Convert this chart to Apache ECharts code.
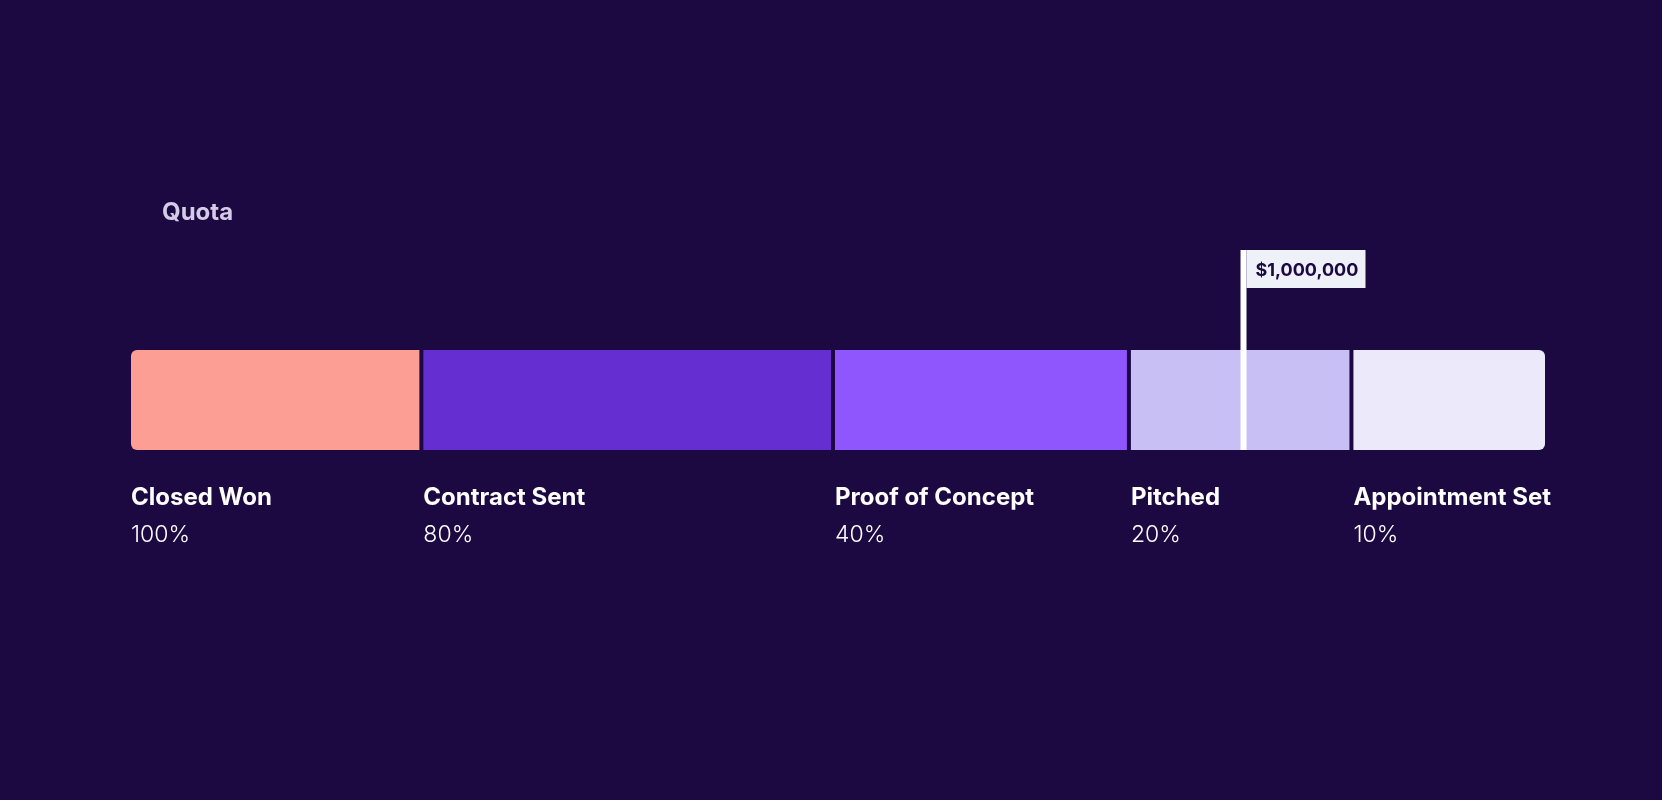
<!DOCTYPE html>
<html><head><meta charset="utf-8">
<script src="https://cdn.jsdelivr.net/npm/echarts@6/dist/echarts.min.js"></script>
<style>html,body{margin:0;padding:0;background:#1c0942;}#c{width:1662px;height:800px;}</style>
</head><body><div id="c"></div>
<script>
const stages = ['Closed Won', 'Contract Sent', 'Proof of Concept', 'Pitched', 'Appointment Set'];
const stageValues = [261000, 370000, 266000, 200000, 174000];
const winRates = ['100%', '80%', '40%', '20%', '10%'];
const stageColors = ['#fd9e95', '#652ed1', '#8f56fe', '#c8bff5', '#ece9fb'];
const quotaValue = 1000000;
const quotaText = '$1,000,000';
const titleText = 'Quota';

const BG = '#1c0942';
const FONT = 'Inter, "Noto Sans", sans-serif';

// cumulative ranges
const ranges = [];
let acc = 0;
stageValues.forEach((v, i) => { ranges.push([acc, acc + v, i]); acc += v; });
const total = acc;

const chart = echarts.init(document.getElementById('c'), null, { renderer: 'canvas' });
chart.setOption({
  backgroundColor: BG,
  animation: false,
  title: {
    text: titleText, left: 162, top: 201, padding: 0,
    textStyle: { color: '#d4cce6', fontSize: 24, fontWeight: 700, fontFamily: FONT }
  },
  grid: { left: 131, width: 1414, top: 350, height: 100 },
  xAxis: { type: 'value', min: 0, max: total, show: false },
  yAxis: { type: 'category', data: ['Pipeline'], show: false },
  series: [
    {
      type: 'custom',
      data: ranges,
      encode: { x: [0, 1] },
      z: 2,
      renderItem: function (params, api) {
        const i = params.dataIndex;
        const last = stages.length - 1;
        const s = api.coord([api.value(0), 0]);
        const e = api.coord([api.value(1), 0]);
        const h = api.size([0, 1])[1];
        const x0 = s[0] + (i > 0 ? 2 : 0);
        const x1 = e[0] - (i < last ? 2 : 0);
        const y0 = s[1] - h / 2;
        const r = i === 0 ? [6, 0, 0, 6] : (i === last ? [0, 6, 6, 0] : 0);
        return {
          type: 'group',
          children: [
            { type: 'rect', shape: { x: x0, y: y0, width: x1 - x0, height: h, r: r }, style: { fill: stageColors[i] } },
            { type: 'text', x: x0, y: y0 + h + 48, style: { text: stages[i], fontFamily: FONT, fontSize: 24, fontWeight: 700, fill: '#ffffff', verticalAlign: 'middle', align: 'left' } },
            { type: 'text', x: x0, y: y0 + h + 85, style: { text: winRates[i], fontFamily: FONT, fontSize: 23, fontWeight: 300, fill: '#ffffff', verticalAlign: 'middle', align: 'left' } }
          ]
        };
      }
    },
    {
      type: 'custom',
      data: [[quotaValue, 0]],
      encode: { x: 0 },
      z: 5,
      renderItem: function (params, api) {
        const p = api.coord([api.value(0), 0]);
        const h = api.size([0, 1])[1];
        const yBottom = p[1] + h / 2;
        const yTop = yBottom - 200;
        return {
          type: 'group',
          children: [
            { type: 'rect', shape: { x: p[0] + 3, y: yTop, width: 119, height: 38 }, style: { fill: '#eef1f7' } },
            { type: 'rect', shape: { x: p[0] - 3, y: yTop, width: 6, height: 200 }, style: { fill: '#ffffff' } },
            { type: 'text', x: p[0] + 12, y: yTop + 20.5, style: { text: quotaText, fontFamily: FONT, fontSize: 18, fontWeight: 700, fill: BG, verticalAlign: 'middle', align: 'left' } }
          ]
        };
      }
    }
  ]
});
</script>
</body></html>
